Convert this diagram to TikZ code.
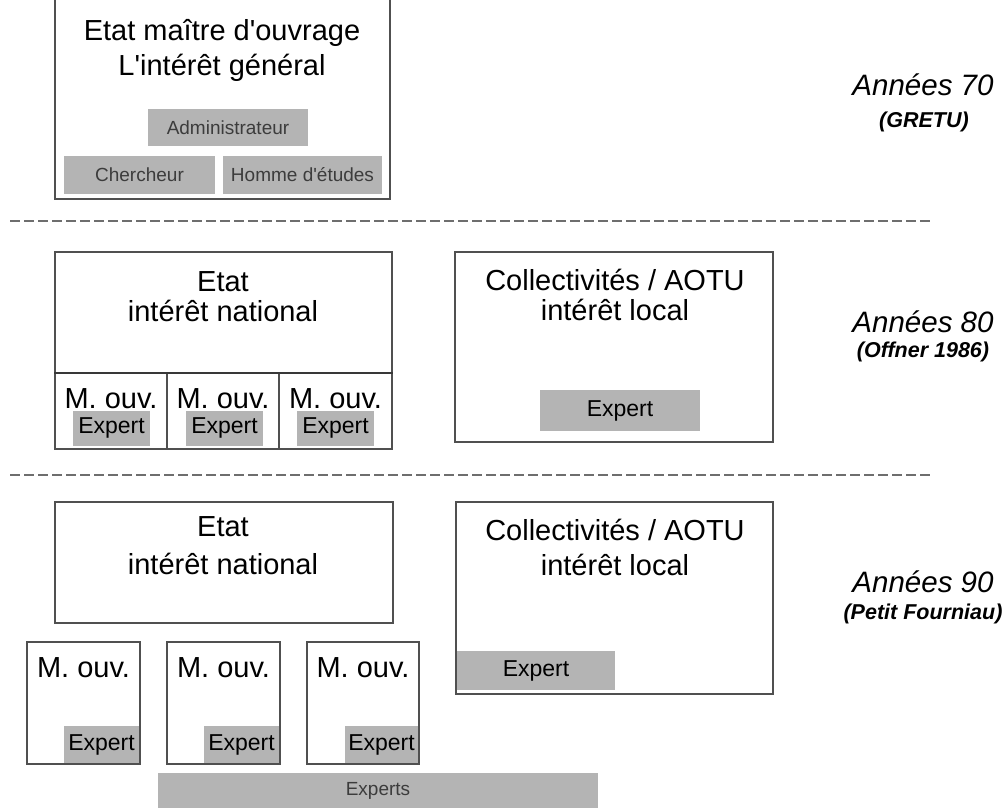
\documentclass[tikz,border=0pt]{standalone}
\usepackage{fontspec}
\setmainfont{Liberation Sans}
\definecolor{linec}{HTML}{505050}
\definecolor{fillg}{HTML}{B4B4B4}
\definecolor{txtg}{HTML}{3C3C3C}
\definecolor{dashc}{HTML}{6E6E6E}
\begin{document}
\begin{tikzpicture}[x=1pt,y=-1pt,
 frame/.style={draw=linec,line width=1.9pt,fill=white,inner sep=0pt},
 gbox/.style={fill=fillg,inner sep=0pt,font=\fontsize{19}{22}\selectfont,text=txtg},
 ebox/.style={fill=fillg,inner sep=0pt,font=\fontsize{23}{26}\selectfont,text=black},
 big/.style={align=center,inner sep=0pt,font=\fontsize{29}{#1}\selectfont},
 big/.default=35,
 era/.style={inner sep=0pt,font=\fontsize{29.5}{32}\selectfont\itshape},
 src/.style={inner sep=0pt,font=\fontsize{21.5}{25}\selectfont\bfseries\itshape},
 sepline/.style={draw=dashc,line width=2pt,dash pattern=on 10pt off 4pt},
 cell/.style={draw=linec,line width=1.9pt},
 divline/.style={draw=linec!70!black,line width=2.6pt}]
\useasboundingbox (0,0) rectangle (1005,807);
\fill[white] (0,0) rectangle (1005,807);

% ---------- Années 70 ----------
\node[frame,minimum width=335pt,minimum height=210pt] (top) at (222.5,94) {};
\node[big=35] (toptxt) at (222,50) {Etat maître d\textquotesingle ouvrage\\L\textquotesingle intérêt général};
\node[gbox,minimum width=160pt,minimum height=37pt] (admin) at (228,127.5) {Administrateur};
\node[gbox,minimum width=151pt,minimum height=38pt] (cherch) at (139.5,175) {Chercheur};
\node[gbox,minimum width=159pt,minimum height=38pt] (homme) at (302.5,175) {Homme d\textquotesingle études};

\coordinate (d1a) at (10,221);
\coordinate (d1b) at (933,221);
\draw[sepline] (d1a) -- (d1b);

% ---------- Années 80 ----------
\node[frame,minimum width=337pt,minimum height=197pt] (etat2) at (223.5,350.5) {};
\coordinate (v1) at (167,373);
\coordinate (v2) at (279,373);
\draw[cell] (v1) -- (v1 |- etat2.south);
\draw[cell] (v2) -- (v2 |- etat2.south);
\draw[divline] (etat2.west |- v1) -- (etat2.east |- v1);
\node[big=30] (etat2txt) at (223,297) {Etat\\intérêt national};
\node[ebox,minimum width=77pt,minimum height=35pt] (ex2a) at (111.5,428) {Expert};
\node[ebox,minimum width=77pt,minimum height=35pt] (ex2b) at (224.5,428) {Expert};
\node[ebox,minimum width=77pt,minimum height=35pt] (ex2c) at (335.5,428) {Expert};
\node[big] (mo2a) at (111,399) {M. ouv.};
\node[big] (mo2b) at (223,399) {M. ouv.};
\node[big] (mo2c) at (335.5,399) {M. ouv.};

\node[frame,minimum width=318pt,minimum height=190pt] (coll2) at (614,347) {};
\node[big=30] (coll2txt) at (615,295) {Collectivités / AOTU\\intérêt local};
\node[ebox,minimum width=160pt,minimum height=41pt] (ex2d) at (620,410.5) {Expert};

\coordinate (d2a) at (10,475);
\coordinate (d2b) at (933,475);
\draw[sepline] (d2a) -- (d2b);

% ---------- Années 90 ----------
\node[frame,minimum width=338pt,minimum height=121pt] (etat3) at (224,562.5) {};
\node[big=38] (etat3txt) at (223,546) {Etat\\intérêt national};

\node[frame,minimum width=113pt,minimum height=122pt] (mo3a) at (83.5,703) {};
\node[frame,minimum width=113pt,minimum height=122pt] (mo3b) at (223.5,703) {};
\node[frame,minimum width=112pt,minimum height=122pt] (mo3c) at (363,703) {};
\node[big] (mo3atxt) at (83.5,668) {M. ouv.};
\node[big] (mo3btxt) at (223.5,668) {M. ouv.};
\node[big] (mo3ctxt) at (363,668) {M. ouv.};
\node[ebox,minimum width=75pt,minimum height=37pt] (ex3a) at (101.5,744.5) {Expert};
\node[ebox,minimum width=75pt,minimum height=37pt] (ex3b) at (241.5,744.5) {Expert};
\node[ebox,minimum width=73pt,minimum height=37pt] (ex3c) at (381.5,744.5) {Expert};

\node[gbox,minimum width=440pt,minimum height=36pt] (experts) at (378,791) {Experts};

\node[frame,minimum width=317pt,minimum height=192pt] (coll3) at (614.5,598) {};
\node[big=35] (coll3txt) at (615,547.5) {Collectivités / AOTU\\intérêt local};
\node[ebox,minimum width=158pt,minimum height=39pt] (ex3d) at (536,670.5) {Expert};

% ---------- labels ----------
\node[era] (a70) at (923,85) {Années 70};
\node[src] (s70) at (924,122) {(GRETU)};
\node[era] (a80) at (923,322) {Années 80};
\node[src] (s80) at (923,352) {(Offner 1986)};
\node[era] (a90) at (923,582) {Années 90};
\node[src] (s90) at (923,614) {(Petit Fourniau)};
\end{tikzpicture}
\end{document}
